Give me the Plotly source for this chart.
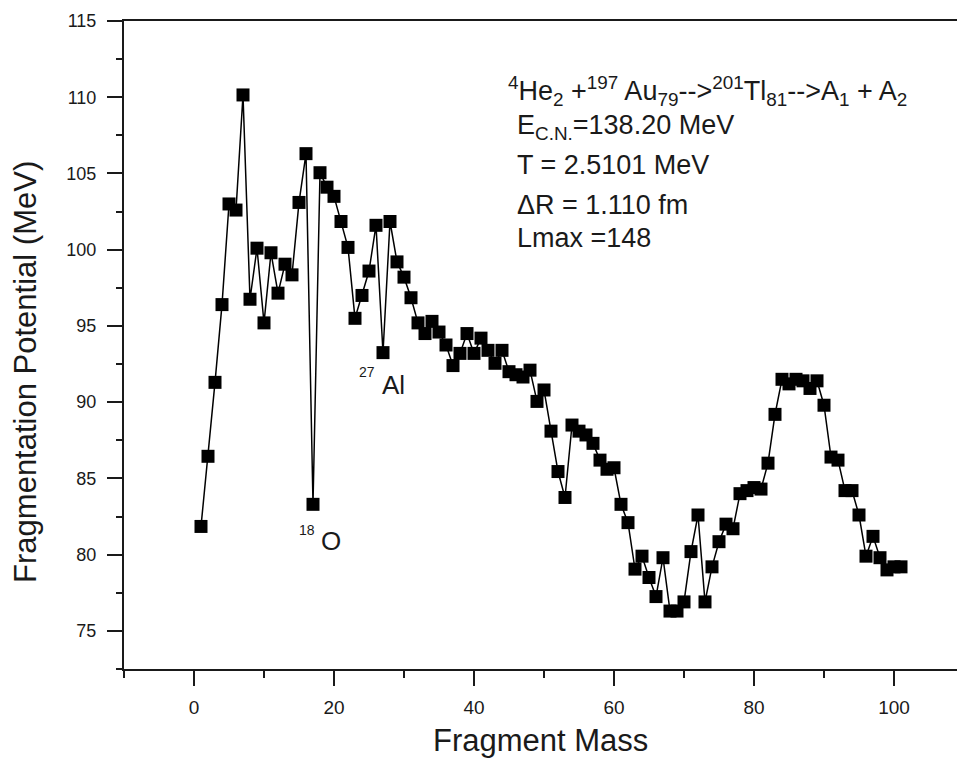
import plotly.graph_objects as go

# Fragment mass A1 and fragmentation potential (MeV)
mass = list(range(1, 102))
potential = [
    81.85, 86.45, 91.3, 96.4, 103.0, 102.6, 110.15, 96.75, 100.1, 95.2,
    99.8, 97.15, 99.05, 98.35, 103.1, 106.3, 83.3, 105.05, 104.1, 103.5,
    101.85, 100.15, 95.5, 97.0, 98.6, 101.6, 93.25, 101.85, 99.2, 98.2,
    96.85, 95.2, 94.5, 95.3, 94.6, 93.75, 92.4, 93.2, 94.5, 93.2,
    94.2, 93.4, 92.55, 93.4, 92.0, 91.8, 91.65, 92.1, 90.05, 90.8,
    88.1, 85.45, 83.75, 88.5, 88.1, 87.85, 87.3, 86.2, 85.6, 85.7,
    83.3, 82.1, 79.05, 79.9, 78.5, 77.25, 79.8, 76.3, 76.3, 76.9,
    80.2, 82.6, 76.9, 79.2, 80.85, 82.0, 81.7, 84.0, 84.2, 84.4,
    84.3, 86.0, 89.2, 91.5, 91.2, 91.5, 91.4, 90.9, 91.4, 89.8,
    86.4, 86.2, 84.2, 84.2, 82.6, 79.9, 81.2, 79.8, 79.0, 79.2,
    79.2,
]

info_lines = [
    "<sup>4</sup>He<sub>2</sub> +<sup>197</sup> Au<sub>79</sub>--><sup>201</sup>Tl<sub>81</sub>-->A<sub>1</sub> + A<sub>2</sub>",
    "E<sub>C.N.</sub>=138.20 MeV",
    "T = 2.5101 MeV",
    "\u0394R = 1.110 fm",
    "Lmax =148",
]

FONT = "Liberation Sans, Arial, sans-serif"
INK = "#1a1a1a"

fig = go.Figure()
fig.add_trace(go.Scatter(
    x=mass, y=potential, mode="lines+markers",
    line=dict(color="black", width=1.5),
    marker=dict(symbol="square", size=13, color="black", line=dict(width=0)),
    showlegend=False,
))

# info block (left edge x, centre y in data units)
info_pos = [(44.6, 110.4), (45.9, 108.05), (45.9, 105.56), (45.9, 102.93), (45.9, 100.77)]
for txt, (ax, ay) in zip(info_lines, info_pos):
    fig.add_annotation(x=ax, y=ay, xref="x", yref="y", text=txt, showarrow=False,
                       xanchor="left", yanchor="middle",
                       font=dict(family=FONT, size=27, color=INK))

# isotope labels
for txt, ax, ay, sz in [("18", 16.14, 81.62, 14), ("O", 19.57, 80.9, 26),
                        ("27", 24.71, 91.98, 14), ("Al", 28.57, 91.13, 26)]:
    fig.add_annotation(x=ax, y=ay, xref="x", yref="y", text=txt, showarrow=False,
                       xanchor="center", yanchor="middle",
                       font=dict(family=FONT, size=sz, color=INK))

# axis titles
fig.add_annotation(x=0.4994, y=-0.1096, xref="paper", yref="paper", text="Fragment Mass",
                   showarrow=False, xanchor="center", yanchor="middle",
                   font=dict(family=FONT, size=31, color=INK))
fig.add_annotation(x=-0.118, y=0.458, xref="paper", yref="paper",
                   text="Fragmentation Potential (MeV)", textangle=-90,
                   showarrow=False, xanchor="center", yanchor="middle",
                   font=dict(family=FONT, size=31, color=INK))

fig.update_xaxes(
    range=[-10, 109], showgrid=False, zeroline=False,
    showline=True, linecolor=INK, linewidth=2, mirror=True,
    ticks="outside", tick0=0, dtick=20, ticklen=15, tickwidth=2, tickcolor=INK,
    minor=dict(ticks="outside", tick0=0, dtick=10, ticklen=7, tickwidth=2, tickcolor=INK),
    tickfont=dict(family=FONT, size=19, color=INK), ticklabelstandoff=5,
)
fig.update_yaxes(
    range=[72.5, 115], showgrid=False, zeroline=False,
    showline=True, linecolor=INK, linewidth=2, mirror=False,
    ticks="outside", tick0=75, dtick=5, ticklen=15, tickwidth=2, tickcolor=INK,
    minor=dict(ticks="outside", tick0=75, dtick=2.5, ticklen=6, tickwidth=2, tickcolor=INK),
    tickfont=dict(family=FONT, size=18, color=INK), ticklabelstandoff=7,
)

fig.update_layout(
    width=957, height=763,
    margin=dict(l=124, r=0, t=21, b=94, pad=0),
    paper_bgcolor="white", plot_bgcolor="white",
)

fig.write_html("out.html")
